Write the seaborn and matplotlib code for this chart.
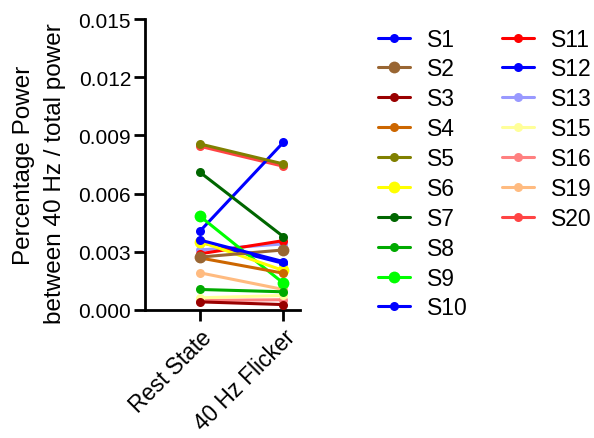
import matplotlib
matplotlib.use("Agg")
import matplotlib.pyplot as plt
from matplotlib.lines import Line2D
import seaborn as sns
import pandas as pd

sns.set_style("ticks")
plt.rcParams['font.family'] = ['Liberation Sans', 'DejaVu Sans']
plt.rcParams['text.color'] = 'black'

conditions = ["Rest State", "40 Hz Flicker"]
subjects = ["S1", "S2", "S3", "S4", "S5", "S6", "S7", "S8", "S9", "S10",
            "S11", "S12", "S13", "S15", "S16", "S19", "S20"]
rest = [0.0036, 0.00272, 0.00041, 0.00268, 0.00856, 0.00352, 0.0071, 0.00105, 0.00483, 0.00406,
        0.00289, 0.0035, 0.00309, 0.00062, 0.00048, 0.00191, 0.00844]
flicker = [0.00249, 0.00309, 0.00027, 0.00189, 0.00753, 0.00203, 0.00378, 0.00093, 0.00138, 0.00864,
           0.00357, 0.0024, 0.0034, 0.00074, 0.00052, 0.00105, 0.00741]
colors = ["#0000FF", "#996633", "#990000", "#CC6600", "#808000", "#FFFF00", "#006600", "#00AA00",
          "#00FF00", "#0000FF", "#FF0000", "#0000FF", "#9999FF", "#FFFF99", "#FF8080", "#FFBB80",
          "#FF4444"]
big = {"S2", "S6", "S9"}

rows = []
for s, r, f in zip(subjects, rest, flicker):
    rows.append({"subject": s, "condition": conditions[0], "pos": 0, "value": r})
    rows.append({"subject": s, "condition": conditions[1], "pos": 1, "value": f})
df = pd.DataFrame(rows)

fig = plt.figure(figsize=(5.94, 4.39), dpi=100)
ax = fig.add_axes([0.244, 0.292, 0.261, 0.662])

n = len(subjects)
handles = []
for i, (s, c) in enumerate(zip(subjects, colors)):
    ms = 8.5 if s in big else 6.5
    sub = df[df["subject"] == s]
    sns.lineplot(data=sub, x="pos", y="value", ax=ax, color=c, marker="o",
                 markersize=ms, markeredgewidth=0, linewidth=2.2, zorder=3 + n - i,
                 legend=False)
    handles.append(Line2D([0], [0], color=c, marker="o", markersize=ms,
                          markeredgewidth=0, linewidth=2.2, label=s))

# pad to get 10 entries per column
labels = subjects[:]
while len(handles) < 20:
    handles.append(Line2D([], [], linestyle="none", marker=None))
    labels.append("")

ax.set_xlim(-0.66, 1.2)
ax.set_ylim(0, 0.015)
ax.set_yticks([0, 0.003, 0.006, 0.009, 0.012, 0.015])
ax.set_yticklabels(["0.000", "0.003", "0.006", "0.009", "0.012", "0.015"], fontsize=15)
ax.set_xticks([0, 1])
ax.set_xticklabels(conditions, fontsize=16.3, rotation=45, ha="right", rotation_mode="anchor")
ax.set_xlabel("")
ax.set_ylabel("")
for sp in ["top", "right"]:
    ax.spines[sp].set_visible(False)
for sp in ["left", "bottom"]:
    ax.spines[sp].set_linewidth(2.0)
    ax.spines[sp].set_color("black")
ax.tick_params(axis="both", width=2.0, length=8, color="black", labelcolor="black", pad=2)
ax.tick_params(axis="x", pad=3)

fig.text(0.040, 0.623, "Percentage Power", rotation=90, fontsize=17.5, ha="center",
         va="center", color="black")
fig.text(0.093, 0.605, "between 40 Hz / total power", rotation=90, fontsize=17.5,
         ha="center", va="center", color="black")

fig.legend(handles, labels, loc="upper left", bbox_to_anchor=(0.636, 0.935), ncol=2,
           frameon=False, fontsize=16.5, handlelength=1.4, handletextpad=0.75,
           columnspacing=1.5, labelspacing=0.3, borderpad=0, borderaxespad=0,
           labelcolor="black")

fig.savefig("out.png", dpi=100)
